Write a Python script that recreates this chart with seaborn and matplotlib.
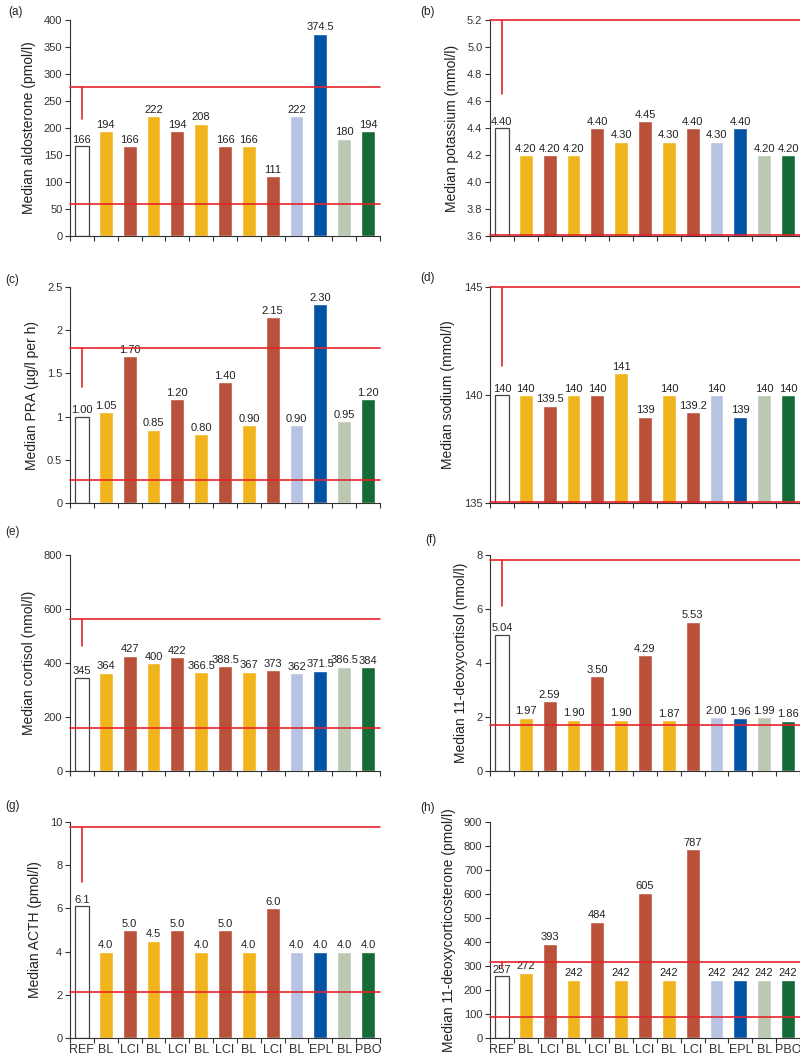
import seaborn as sns
import pandas as pd
import matplotlib.pyplot as plt
import numpy as np

# group labels along the x axis
groups = ["REF", "BL", "LCI", "BL", "LCI", "BL", "LCI", "BL", "LCI", "BL", "EPL", "BL", "PBO"]
bar_colors = ["#FFFFFF", "#F0B41C", "#B9513A", "#F0B41C", "#B9513A", "#F0B41C", "#B9513A",
              "#F0B41C", "#B9513A", "#B7C3E3", "#0353A4", "#BBC9B3", "#156B37"]

aldosterone = [166, 194, 166, 222, 194, 208, 166, 166, 111, 222, 374.5, 180, 194]
potassium = [4.40, 4.20, 4.20, 4.20, 4.40, 4.30, 4.45, 4.30, 4.40, 4.30, 4.40, 4.20, 4.20]
pra = [1.00, 1.05, 1.70, 0.85, 1.20, 0.80, 1.40, 0.90, 2.15, 0.90, 2.30, 0.95, 1.20]
sodium = [140, 140, 139.5, 140, 140, 141, 139, 140, 139.2, 140, 139, 140, 140]
cortisol = [345, 364, 427, 400, 422, 366.5, 388.5, 367, 373, 362, 371.5, 386.5, 384]
deoxycortisol = [5.04, 1.97, 2.59, 1.90, 3.50, 1.90, 4.29, 1.87, 5.53, 2.00, 1.96, 1.99, 1.86]
acth = [6.1, 4.0, 5.0, 4.5, 5.0, 4.0, 5.0, 4.0, 6.0, 4.0, 4.0, 4.0, 4.0]
doc = [257, 272, 393, 242, 484, 242, 605, 242, 787, 242, 242, 242, 242]

# reference range: (lower, upper, end of the vertical marker)
ref_aldo = (59, 276, 217)
ref_k = (3.61, 5.2, 4.65)
ref_pra = (0.27, 1.79, 1.34)
ref_na = (135.05, 145, 141.35)
ref_cort = (160, 563, 461)
ref_f11 = (1.7, 7.8, 6.12)
ref_acth = (2.15, 9.75, 7.2)
ref_doc = (88, 315, 292)

sns.set_style("ticks")
plt.rcParams["font.family"] = ["Liberation Sans", "DejaVu Sans"]
plt.rcParams["axes.edgecolor"] = "#333333"
plt.rcParams["xtick.color"] = "#333333"
plt.rcParams["ytick.color"] = "#333333"
plt.rcParams["text.color"] = "#222222"
plt.rcParams["axes.labelcolor"] = "#222222"

fig = plt.figure(figsize=(8, 10.57), dpi=100)

col_x = [0.0875, 0.6125]
row_y = [0.7767, 0.5241, 0.2706, 0.0180]
w, h = 0.3875, 0.2044

panels = [
    ("(a)", aldosterone, "Median aldosterone (pmol/l)", (0, 400), np.arange(0, 401, 50), "{:g}", ref_aldo, "{:g}"),
    ("(b)", potassium, "Median potassium (mmol/l)", (3.6, 5.2), np.arange(3.6, 5.21, 0.2), "{:.2f}", ref_k, "{:.1f}"),
    ("(c)", pra, "Median PRA (\u00b5g/l per h)", (0, 2.5), np.arange(0, 2.51, 0.5), "{:.2f}", ref_pra, "{:g}"),
    ("(d)", sodium, "Median sodium (mmol/l)", (135, 145), [135, 140, 145], "{:g}", ref_na, "{:g}"),
    ("(e)", cortisol, "Median cortisol (nmol/l)", (0, 800), np.arange(0, 801, 200), "{:g}", ref_cort, "{:g}"),
    ("(f)", deoxycortisol, "Median 11-deoxycortisol (nmol/l)", (0, 8), np.arange(0, 9, 2), "{:.2f}", ref_f11, "{:g}"),
    ("(g)", acth, "Median ACTH (pmol/l)", (0, 10), np.arange(0, 11, 2), "{:.1f}", ref_acth, "{:g}"),
    ("(h)", doc, "Median 11-deoxycorticosterone (pmol/l)", (0, 900), np.arange(0, 901, 100), "{:g}", ref_doc, "{:g}"),
]

panel_label_pos = [(8, 12), (420, 12), (5, 280), (420, 278), (5, 532), (425, 540), (5, 806), (420, 808)]

for k, (tag, vals, ylab, ylim, yticks, fmt, ref, tickfmt) in enumerate(panels):
    r, c = divmod(k, 2)
    ax = fig.add_axes([col_x[c], row_y[r], w, h])
    df = pd.DataFrame({"bar": [str(i) for i in range(len(vals))], "value": vals})
    sns.barplot(data=df, x="bar", y="value", hue="bar", palette=bar_colors,
                legend=False, width=0.58, saturation=1, ax=ax)
    # REF bar: open with grey outline
    ref_patch = ax.patches[0]
    ref_patch.set_edgecolor("#444444")
    ref_patch.set_linewidth(0.9)

    ax.set_xlim(-0.5, len(vals) - 0.5)
    ax.set_ylim(*ylim)
    ax.set_yticks(yticks)
    ax.set_yticklabels(["0" if abs(t) < 1e-9 else tickfmt.format(t) for t in yticks], fontsize=8)
    ax.set_xticks(np.arange(-0.5, len(vals), 1))
    ax.set_xticklabels([])
    ax.set_xticks(range(len(vals)), minor=True)
    if r == 3:
        ax.set_xticklabels(groups, minor=True, fontsize=9)
    else:
        ax.set_xticklabels([], minor=True)
    ax.tick_params(axis="x", which="minor", length=0, pad=4)
    ax.tick_params(axis="x", which="major", length=3.5, width=0.8)
    ax.tick_params(axis="y", length=3.5, width=0.8, pad=2)
    ax.set_xlabel("")
    ax.set_ylabel(ylab, fontsize=10, labelpad=6)
    sns.despine(ax=ax)
    ax.spines["left"].set_linewidth(0.8)
    ax.spines["bottom"].set_linewidth(0.8)

    for i, v in enumerate(vals):
        ax.annotate(fmt.format(v), (i, v), xytext=(0, 1), textcoords="offset points",
                    ha="center", va="bottom", fontsize=8)

    lo, hi, mark = ref
    ax.axhline(lo, color="#E4242B", lw=1.2, clip_on=False, zorder=5)
    ax.axhline(hi, color="#E4242B", lw=1.2, clip_on=False, zorder=5)
    ax.plot([0, 0], [mark, hi], color="#E4242B", lw=1.2, zorder=5)

    px, py = panel_label_pos[k]
    fig.text(px / 800, 1 - py / 1057, tag, fontsize=8.5, va="center", ha="left")

plt.savefig("out.png", dpi=100)
